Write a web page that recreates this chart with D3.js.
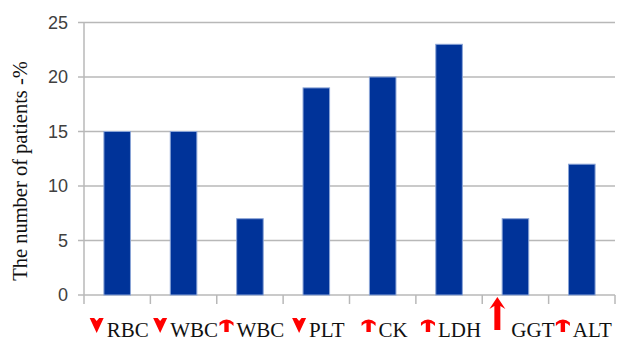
<!DOCTYPE html>
<html>
<head>
<meta charset="utf-8">
<script src="https://cdn.jsdelivr.net/npm/d3@7"></script>
<style>
  html, body { margin: 0; padding: 0; background: #fff; }
  svg { display: block; }
</style>
</head>
<body>
<svg id="chart" width="617" height="341"></svg>
<script>
// Laboratory findings: share of patients with each abnormal value
const categories = ["RBC", "WBC", "WBC2", "PLT", "CK", "LDH", "GGT", "ALT"];
const labels = ["RBC", "WBC", "WBC", "PLT", "CK", "LDH", "GGT", "ALT"];
const directions = ["down", "down", "up", "down", "up", "up", "bigup", "up"];
const values = [15, 15, 7, 19, 20, 23, 7, 12];
const yTicks = [0, 5, 10, 15, 20, 25];

const svg = d3.select("#chart");
const plotLeft = 84, plotRight = 615, plotTop = 22.5, plotBottom = 295;

const x = d3.scaleBand().domain(categories).range([plotLeft, plotRight]).paddingInner(0.6).paddingOuter(0.3);
const band = d3.scaleBand().domain(categories).range([plotLeft, plotRight]);
const y = d3.scaleLinear().domain([0, 25]).range([plotBottom, plotTop]);

// horizontal gridlines
svg.append("g")
  .selectAll("line")
  .data(yTicks)
  .join("line")
  .attr("x1", plotLeft - 6).attr("x2", plotRight)
  .attr("y1", d => y(d)).attr("y2", d => y(d))
  .attr("stroke", "#b8b8b8").attr("stroke-width", 1.5);

// y axis line
svg.append("line")
  .attr("x1", plotLeft).attr("x2", plotLeft)
  .attr("y1", plotTop).attr("y2", plotBottom + 9)
  .attr("stroke", "#b8b8b8").attr("stroke-width", 1.5);

// category separators below the baseline
const seps = categories.map(c => band(c)).concat([plotRight]);
svg.append("g")
  .selectAll("line")
  .data(seps.slice(1))
  .join("line")
  .attr("x1", d => d).attr("x2", d => d)
  .attr("y1", plotBottom).attr("y2", plotBottom + 9)
  .attr("stroke", "#b8b8b8").attr("stroke-width", 1.5);

// y tick labels
svg.append("g")
  .selectAll("text")
  .data(yTicks)
  .join("text")
  .attr("x", 68).attr("y", d => y(d))
  .attr("dy", "0.36em")
  .attr("text-anchor", "end")
  .attr("font-family", "Liberation Sans, Arial, sans-serif")
  .attr("font-size", 18)
  .attr("fill", "#404040")
  .text(d => d);

// bars
svg.append("g")
  .selectAll("rect")
  .data(values)
  .join("rect")
  .attr("x", (d, i) => x(categories[i]))
  .attr("width", x.bandwidth())
  .attr("y", d => y(d))
  .attr("height", d => y(0) - y(d))
  .attr("fill", "#003399")
  .attr("stroke", "#8aa4d6")
  .attr("stroke-width", 1);

// axis title
svg.append("text")
  .attr("transform", "translate(27,171) rotate(-90)")
  .attr("text-anchor", "middle")
  .attr("font-family", "Liberation Serif, Times New Roman, serif")
  .attr("font-size", 20.5)
  .attr("fill", "#111")
  .text("The number of patients -%");

// category labels with direction markers
const icons = {
  down: "M-7,0 L-2.5,0 L0,3 L2.5,0 L7,0 L0,15 Z",
  up: "M-7,4.5 Q0,-1.5 7,4.5 L7,8 Q4.5,5 2.2,5 L2.2,14 L-2.2,14 L-2.2,5 Q-4.5,5 -7,8 Z",
  bigup: "M-8,12 L0,0 L8,12 L3,9 L3,33 L-3,33 L-3,9 Z"
};
const iconTop = { down: 318, up: 318, bigup: 297 };
const iconGap = { down: 3, up: 3, bigup: 7 };
const groupShift = { down: 2, up: 2, bigup: 7 };

const lab = svg.append("g")
  .selectAll("g")
  .data(categories)
  .join("g")
  .attr("transform", (c, i) => `translate(${band(c) + band.bandwidth() / 2 + groupShift[directions[i]]},0)`);

lab.each(function (c, i) {
  const g = d3.select(this);
  const dir = directions[i];
  const t = g.append("text")
    .attr("y", 337)
    .attr("font-family", "Liberation Serif, Times New Roman, serif")
    .attr("font-size", 21)
    .attr("fill", "#111")
    .text(labels[i]);
  const tw = t.node().getComputedTextLength();
  const iw = 14, gap = iconGap[dir];
  const total = iw + gap + tw;
  const start = -total / 2;
  t.attr("x", start + iw + gap);
  g.append("path")
    .attr("d", icons[dir])
    .attr("transform", `translate(${start + iw / 2},${iconTop[dir]})`)
    .attr("fill", "#ff0000");
});
</script>
</body>
</html>
